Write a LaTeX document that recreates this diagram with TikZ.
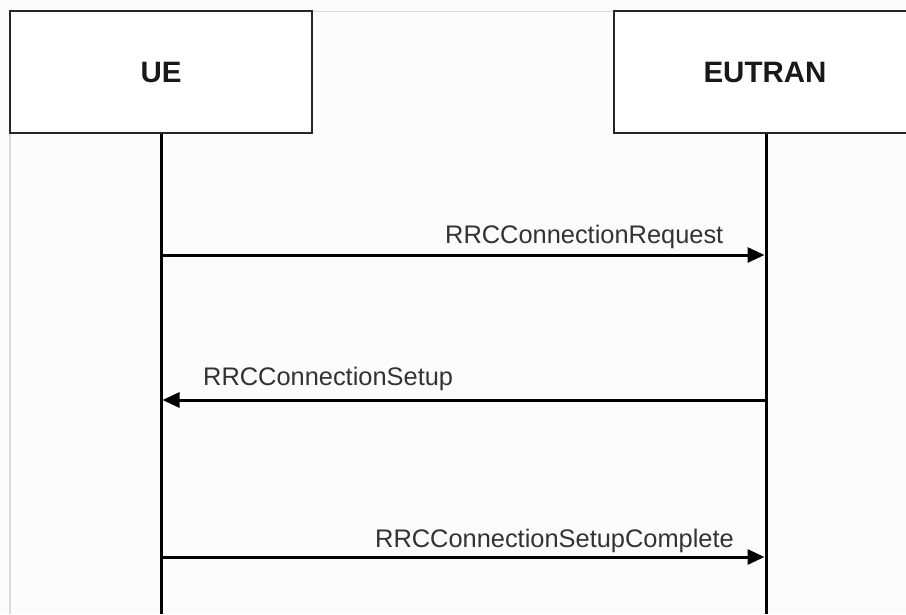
\documentclass[tikz,border=0pt]{standalone}
\usepackage{fontspec}
\setmainfont{Liberation Sans}
\usetikzlibrary{arrows.meta}
\begin{document}
\begin{tikzpicture}[x=1pt,y=-1pt,
  entity/.style={draw=black!85,line width=2pt,fill=white,minimum width=302pt,minimum height=122pt,inner sep=0pt,
    font=\fontsize{29.5}{32}\selectfont\bfseries,text=black!90},
  life/.style={line width=3pt,black},
  msg/.style={line width=3pt,black,-{Triangle[length=17pt,width=15pt]}},
  lbl/.style={anchor=base west,inner sep=0pt,font=\fontsize{25.4}{28}\selectfont,text=black!80},
  frame/.style={draw=black!15,line width=1.5pt}]
\fill[white!99!black] (0,0) rectangle (906,614);
\useasboundingbox (0,0) rectangle (906,614);
\begin{scope}
\clip (0,0) rectangle (906,614);
% faint frame remnants
\coordinate (ftl) at (312,11.5);
\coordinate (ftr) at (614,11.5);
\coordinate (fl1) at (10,133);
\coordinate (fl2) at (10,614);
\draw[frame] (ftl) -- (ftr);
\draw[frame] (fl1) -- (fl2);
% entities
\node[entity] (ue) at (161,72) {UE};
\node[entity] (eutran) at (765,72) {EUTRAN};
% lifelines
\coordinate (ueend) at (161,614);
\coordinate (enend) at (766,614);
\draw[life] (ue.south) -- (ueend);
\draw[life] ([xshift=1pt]eutran.south) -- (enend);
% messages
\coordinate (u1) at (162.5,255);
\coordinate (e1) at (764.5,255);
\coordinate (u2) at (162.5,400);
\coordinate (e2) at (764.5,400);
\coordinate (u3) at (162.5,557);
\coordinate (e3) at (764.5,557);
\draw[msg] (u1) -- (e1);
\draw[msg] (e2) -- (u2);
\draw[msg] (u3) -- (e3);
\node[lbl] (l1) at (445,243) {RRCConnectionRequest};
\node[lbl] (l2) at (203,385) {RRCConnectionSetup};
\node[lbl] (l3) at (375,547) {RRCConnectionSetupComplete};
\end{scope}
\end{tikzpicture}
\end{document}
